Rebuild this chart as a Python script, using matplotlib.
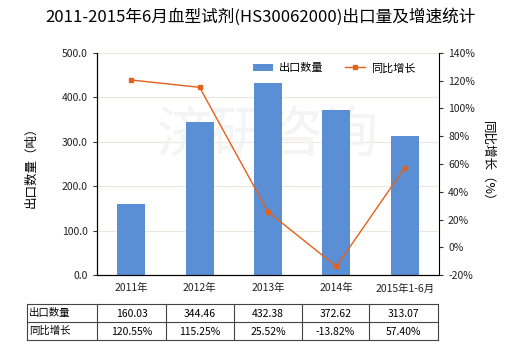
import matplotlib
matplotlib.use("Agg")
import matplotlib.pyplot as plt
from matplotlib.lines import Line2D

plt.rcParams['font.family'] = ['Noto Sans CJK SC', 'DejaVu Sans']

years = ['2011年', '2012年', '2013年', '2014年', '2015年1-6月']
qty = [160.03, 344.46, 432.38, 372.62, 313.07]
growth = [120.55, 115.25, 25.52, -13.82, 57.40]
qty_txt = ['160.03', '344.46', '432.38', '372.62', '313.07']
growth_txt = ['120.55%', '115.25%', '25.52%', '-13.82%', '57.40%']

bar_color = '#5A8FD6'
line_color = '#E2611C'

fig = plt.figure(figsize=(5.2, 3.5), dpi=100)
ax = fig.add_axes([97/520, 1-275/350, 342/520, 222/350])
ax2 = ax.twinx()

x = list(range(len(years)))
ax.bar(x, qty, width=0.41, color=bar_color, label='出口数量', zorder=2)
ax2.plot(x, growth, color=line_color, lw=1.0, marker='s', ms=3.5, label='同比增长', zorder=3)

ax.set_xlim(-0.5, 4.5)
ax.set_ylim(0, 500)
ax.set_yticks(range(0, 501, 100))
ax.set_yticklabels(['%.1f' % v for v in range(0, 501, 100)])
ax2.set_ylim(-20, 140)
ax2.set_yticks(range(-20, 141, 20))
ax2.set_yticklabels(['%d%%' % v for v in range(-20, 141, 20)])
ax.set_xticks(x)
ax.set_xticklabels(years)
ax.grid(axis='y', color='#ECE8DC', lw=0.8, zorder=0)
ax.set_axisbelow(True)

for a in (ax, ax2):
    a.spines['top'].set_visible(False)
    a.tick_params(labelsize=7.5, length=3, width=0.8, colors='#333333', labelcolor='#222222')
ax.spines['right'].set_visible(False)
ax.tick_params(axis='x', length=0, pad=6)

ax.set_ylabel('出口数量（吨）', fontsize=9, labelpad=18)
ax2.set_ylabel('同比增长（%）', fontsize=9, rotation=-90, labelpad=14)

# faint watermark
ax.text(0.5, 0.62, '济研咨询', transform=ax.transAxes, fontsize=40, color='#F4F4F4',
        ha='center', va='center', zorder=1)

fig.text(0.5, 1-17/350, '2011-2015年6月血型试剂(HS30062000)出口量及增速统计', fontsize=12, ha='center', va='center')

h1, l1 = ax.get_legend_handles_labels()
h2, l2 = ax2.get_legend_handles_labels()
ax2.legend(h1 + h2, l1 + l2, loc='upper right', bbox_to_anchor=(0.96, 1.0), ncol=2, frameon=False,
           fontsize=8, handlelength=1.8, handletextpad=0.5, columnspacing=2.0)

# data table below the chart
cols = [27, 97, 166, 234, 302, 369, 438]
rows = [304, 322, 340]
for yy in rows:
    fig.add_artist(Line2D([cols[0]/520, cols[-1]/520], [1-yy/350, 1-yy/350], color='#444444', lw=0.8))
for xx in cols:
    fig.add_artist(Line2D([xx/520, xx/520], [1-rows[0]/350, 1-rows[-1]/350], color='#444444', lw=0.8))
fig.text(29/520, 1-313/350, '出口数量', fontsize=7.5, va='center')
fig.text(29/520, 1-331/350, '同比增长', fontsize=7.5, va='center')
for i in range(5):
    cx = (cols[i+1] + cols[i+2]) / 2 / 520
    fig.text(cx, 1-314/350, qty_txt[i], fontsize=7.5, ha='center', va='center')
    fig.text(cx, 1-332/350, growth_txt[i], fontsize=7.5, ha='center', va='center')

fig.savefig('out.png', dpi=100)
